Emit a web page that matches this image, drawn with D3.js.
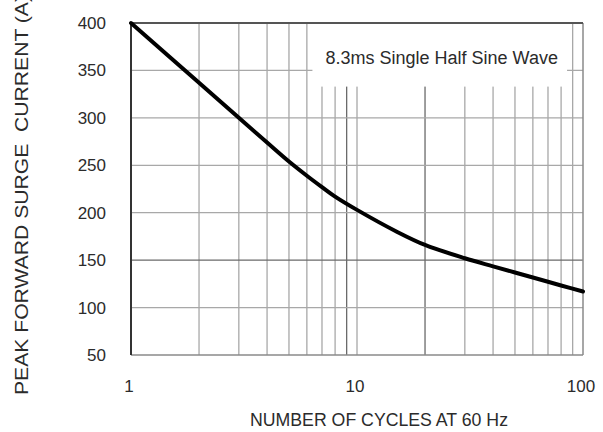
<!DOCTYPE html>
<html>
<head>
<meta charset="utf-8">
<script src="https://cdn.jsdelivr.net/npm/d3@7"></script>
<style>
  html, body { margin: 0; padding: 0; background: #fff; }
  svg text { font-family: "Liberation Sans", Arial, sans-serif; fill: #2b2b2b; }
</style>
</head>
<body>
<div id="chart"></div>
<script>
'use strict';

// values
const cycles  = [1, 2, 3, 4, 5, 6, 7, 8, 10, 15, 20, 30, 40, 50, 60, 70, 80, 100];
const current = [400, 337, 300, 274, 254, 239, 227, 217, 203, 180, 166, 152, 143.5, 137, 131.7, 127.2, 123.3, 117];

const xTicks = [1, 10, 100];
const xGrid = [2, 3, 4, 5, 6, 7, 8, 9, 10, 20, 30, 40, 50, 60, 70, 80, 90];
const yTicks = [50, 100, 150, 200, 250, 300, 350, 400];
const noteText = "8.3ms Single Half Sine Wave";
const noteSpan = [6.35, 85];   // cycles covered by the white label box
const noteBottom = 334;        // amps

const width = 603, height = 432;
const margin = { top: 23, right: 20, bottom: 77, left: 131 };

const svg = d3.select("#chart").append("svg")
    .attr("width", width)
    .attr("height", height);

const x = d3.scaleLog().domain([1, 100]).range([margin.left, width - margin.right]);
const y = d3.scaleLinear().domain([50, 400]).range([height - margin.bottom, margin.top]);

const darker = d => d === 9 || d === 20 || d === 150;

// grid
svg.append("g").selectAll("line")
    .data(xGrid)
    .enter().append("line")
    .attr("x1", d => x(d)).attr("x2", d => x(d))
    .attr("y1", y(50)).attr("y2", y(400))
    .attr("stroke", d => darker(d) ? "#6a6a6a" : "#a8a8a8")
    .attr("stroke-width", 1.3);

svg.append("g").selectAll("line")
    .data(yTicks.filter(d => d > 50 && d < 400))
    .enter().append("line")
    .attr("x1", x(1)).attr("x2", x(100))
    .attr("y1", d => y(d)).attr("y2", d => y(d))
    .attr("stroke", d => darker(d) ? "#6a6a6a" : "#a8a8a8")
    .attr("stroke-width", 1.3);

// label box covers the grid
svg.append("rect")
    .attr("x", x(noteSpan[0]))
    .attr("y", y(400) + 1)
    .attr("width", x(noteSpan[1]) - x(noteSpan[0]))
    .attr("height", y(noteBottom) - y(400))
    .attr("fill", "#fff");

svg.append("text")
    .attr("x", (x(noteSpan[0]) + x(noteSpan[1])) / 2 + 2)
    .attr("y", y(400) + 41)
    .attr("font-size", "18px")
    .attr("text-anchor", "middle")
    .text(noteText);

// frame
svg.append("line")
    .attr("x1", x(1)).attr("x2", x(100)).attr("y1", y(50)).attr("y2", y(50))
    .attr("stroke", "#8a8a8a").attr("stroke-width", 1.5);
svg.append("line")
    .attr("x1", x(100)).attr("x2", x(100)).attr("y1", y(50)).attr("y2", y(400))
    .attr("stroke", "#8a8a8a").attr("stroke-width", 1.5);
svg.append("line")
    .attr("x1", x(1)).attr("x2", x(100)).attr("y1", y(400)).attr("y2", y(400))
    .attr("stroke", "#555").attr("stroke-width", 2);
svg.append("line")
    .attr("x1", x(1)).attr("x2", x(1)).attr("y1", y(50)).attr("y2", y(400))
    .attr("stroke", "#333").attr("stroke-width", 2);

// curve
const line = d3.line()
    .x(d => x(d[0]))
    .y(d => y(d[1]))
    .curve(d3.curveCatmullRom.alpha(0.5));

svg.append("path")
    .datum(cycles.map((c, i) => [c, current[i]]))
    .attr("fill", "none")
    .attr("stroke", "#000")
    .attr("stroke-width", 4)
    .attr("stroke-linecap", "round")
    .attr("d", line);

// tick labels
svg.append("g").selectAll("text")
    .data(yTicks)
    .enter().append("text")
    .attr("x", 106)
    .attr("y", d => y(d) + 6)
    .attr("text-anchor", "end")
    .attr("font-size", "17px")
    .text(d => d);

svg.append("g").selectAll("text")
    .data(xTicks)
    .enter().append("text")
    .attr("x", d => x(d) - 2)
    .attr("y", 392)
    .attr("text-anchor", "middle")
    .attr("font-size", "17px")
    .text(d => d);

// axis titles
svg.append("text")
    .attr("x", 379)
    .attr("y", 426)
    .attr("text-anchor", "middle")
    .attr("font-size", "19px")
    .attr("textLength", 258)
    .attr("lengthAdjust", "spacingAndGlyphs")
    .text("NUMBER OF CYCLES AT 60 Hz");

svg.append("text")
    .attr("transform", "translate(28,195) rotate(-90)")
    .attr("text-anchor", "middle")
    .attr("font-size", "19px")
    .attr("textLength", 400)
    .attr("lengthAdjust", "spacingAndGlyphs")
    .style("white-space", "pre")
    .text("PEAK FORWARD SURGE  CURRENT (A)");
</script>
</body>
</html>
